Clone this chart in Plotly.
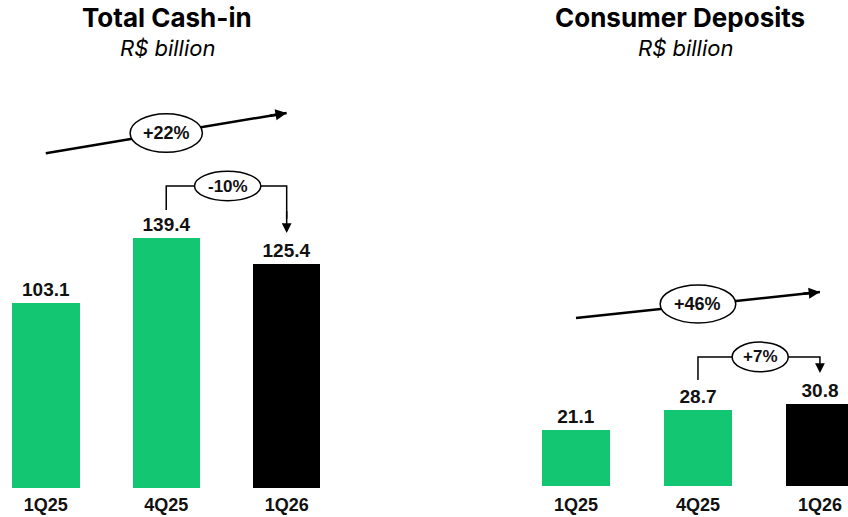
import plotly.graph_objects as go
from plotly.subplots import make_subplots

# ---- data ----
categories = ["1Q25", "4Q25", "1Q26"]
cash_in = [103.1, 139.4, 125.4]
deposits = [21.1, 28.7, 30.8]
titles = ["Total Cash-in", "Consumer Deposits"]
subtitle = "R$ billion"
yoy_labels = ["+22%", "+46%"]
qoq_labels = ["-10%", "+7%"]

GREEN = "#13C672"
BLACK = "#000000"
bar_colors = [GREEN, GREEN, BLACK]
NUM_FONT = "Liberation Sans, Arial, sans-serif"
TITLE_FONT = "Inter, Liberation Sans, sans-serif"

W, H = 848, 517
PLOT_BOTTOM = 488  # px

fig = make_subplots(rows=1, cols=2, horizontal_spacing=0)

series = [cash_in, deposits]
# per-panel layout constants (axis ranges and annotation heights in data units)
panels = [
    dict(xr=[-0.38, 3.14], yr=[0, 272.6], arrow_y=(187.0, 209.5), ell_y=198.3,
         ell_hw=0.30, ell_hh=10.8, br_y0=155.3, br_y=168.7, br_tip=142.5,
         q_hw=0.275, q_hh=8.2, q_x=1.51, title_x=167, sub_x=167),
    dict(xr=[-1.246, 2.23], yr=[-0.75, 183.4], arrow_y=(63.4, 73.2), ell_y=68.7,
         ell_hw=0.31, ell_hh=7.2, br_y0=40.0, br_y=48.7, br_tip=42.6,
         q_hw=0.23, q_hh=5.6, q_x=1.51, title_x=680, sub_x=685),
]

xs = list(range(len(categories)))

for i, (vals, p) in enumerate(zip(series, panels)):
    col = i + 1
    fig.add_trace(
        go.Bar(
            x=xs, y=vals, width=0.56,
            marker=dict(color=bar_colors, line=dict(width=0)),
            texttemplate="<b>%{y:.1f}</b>", textposition="outside",
            textfont=dict(family=NUM_FONT, size=19, color="#111111"),
            cliponaxis=False, showlegend=False, hoverinfo="skip",
        ),
        row=1, col=col,
    )
    xref = "x" if col == 1 else "x2"
    yref = "y" if col == 1 else "y2"

    # big YoY arrow (line + head)
    ya, yb = p["arrow_y"]
    fig.add_shape(type="line", x0=0, y0=ya, x1=2, y1=yb, xref=xref, yref=yref,
                  line=dict(color=BLACK, width=2.5))
    fig.add_annotation(x=2, y=yb, ax=1.85, ay=ya + (yb - ya) * 0.925,
                       xref=xref, yref=yref, axref=xref, ayref=yref,
                       text="", showarrow=True, arrowhead=2, arrowsize=0.9,
                       arrowwidth=2.5, arrowcolor=BLACK, standoff=0)
    fig.add_shape(type="circle", xref=xref, yref=yref,
                  x0=1 - p["ell_hw"], x1=1 + p["ell_hw"],
                  y0=p["ell_y"] - p["ell_hh"], y1=p["ell_y"] + p["ell_hh"],
                  fillcolor="white", line=dict(color=BLACK, width=1.5))
    fig.add_annotation(x=1, y=p["ell_y"], xref=xref, yref=yref,
                       text="<b>%s</b>" % yoy_labels[i], showarrow=False,
                       font=dict(family=NUM_FONT, size=18, color="#111111"))

    # QoQ bracket
    fig.add_shape(type="path", xref=xref, yref=yref,
                  path="M 1,%f L 1,%f L 2,%f L 2,%f" % (p["br_y0"], p["br_y"], p["br_y"], p["br_tip"] + (p["br_y"] - p["br_tip"]) * 0.3),
                  line=dict(color=BLACK, width=1.5))
    fig.add_annotation(x=2, y=p["br_tip"], ax=2, ay=p["br_tip"] + (p["br_y"] - p["br_tip"]) * 0.5,
                       xref=xref, yref=yref, axref=xref, ayref=yref,
                       text="", showarrow=True, arrowhead=2, arrowsize=1.3,
                       arrowwidth=1.5, arrowcolor=BLACK, standoff=0)
    fig.add_shape(type="circle", xref=xref, yref=yref,
                  x0=p["q_x"] - p["q_hw"], x1=p["q_x"] + p["q_hw"],
                  y0=p["br_y"] - p["q_hh"], y1=p["br_y"] + p["q_hh"],
                  fillcolor="white", line=dict(color=BLACK, width=1.5))
    fig.add_annotation(x=p["q_x"], y=p["br_y"], xref=xref, yref=yref,
                       text="<b>%s</b>" % qoq_labels[i], showarrow=False,
                       font=dict(family=NUM_FONT, size=17, color="#111111"))

    # titles
    fig.add_annotation(x=p["title_x"] / W, y=(PLOT_BOTTOM - 17) / PLOT_BOTTOM,
                       xref="paper", yref="paper", text="<b>%s</b>" % titles[i],
                       showarrow=False, xanchor="center", yanchor="middle",
                       font=dict(family=TITLE_FONT, size=26, color=BLACK))
    fig.add_annotation(x=p["sub_x"] / W, y=(PLOT_BOTTOM - 48) / PLOT_BOTTOM,
                       xref="paper", yref="paper", text="<i>%s</i>" % subtitle,
                       showarrow=False, xanchor="center", yanchor="middle",
                       font=dict(family=TITLE_FONT, size=22, color=BLACK))

    fig.update_xaxes(range=p["xr"], tickvals=xs, ticktext=["<b>%s</b>" % c for c in categories],
                     tickfont=dict(family=NUM_FONT, size=18, color="#111111"),
                     showgrid=False, zeroline=False, showline=False, ticks="",
                     ticklabelstandoff=4, fixedrange=True, row=1, col=col)
    fig.update_yaxes(range=p["yr"], visible=False, showgrid=False, zeroline=False,
                     row=1, col=col)

fig.update_layout(
    width=W, height=H,
    margin=dict(l=0, r=0, t=0, b=H - PLOT_BOTTOM, pad=0),
    paper_bgcolor="white", plot_bgcolor="white",
    xaxis=dict(domain=[0, 0.5]), xaxis2=dict(domain=[0.5, 1.0]),
    bargap=0, showlegend=False,
)

fig.write_html("out.html")
